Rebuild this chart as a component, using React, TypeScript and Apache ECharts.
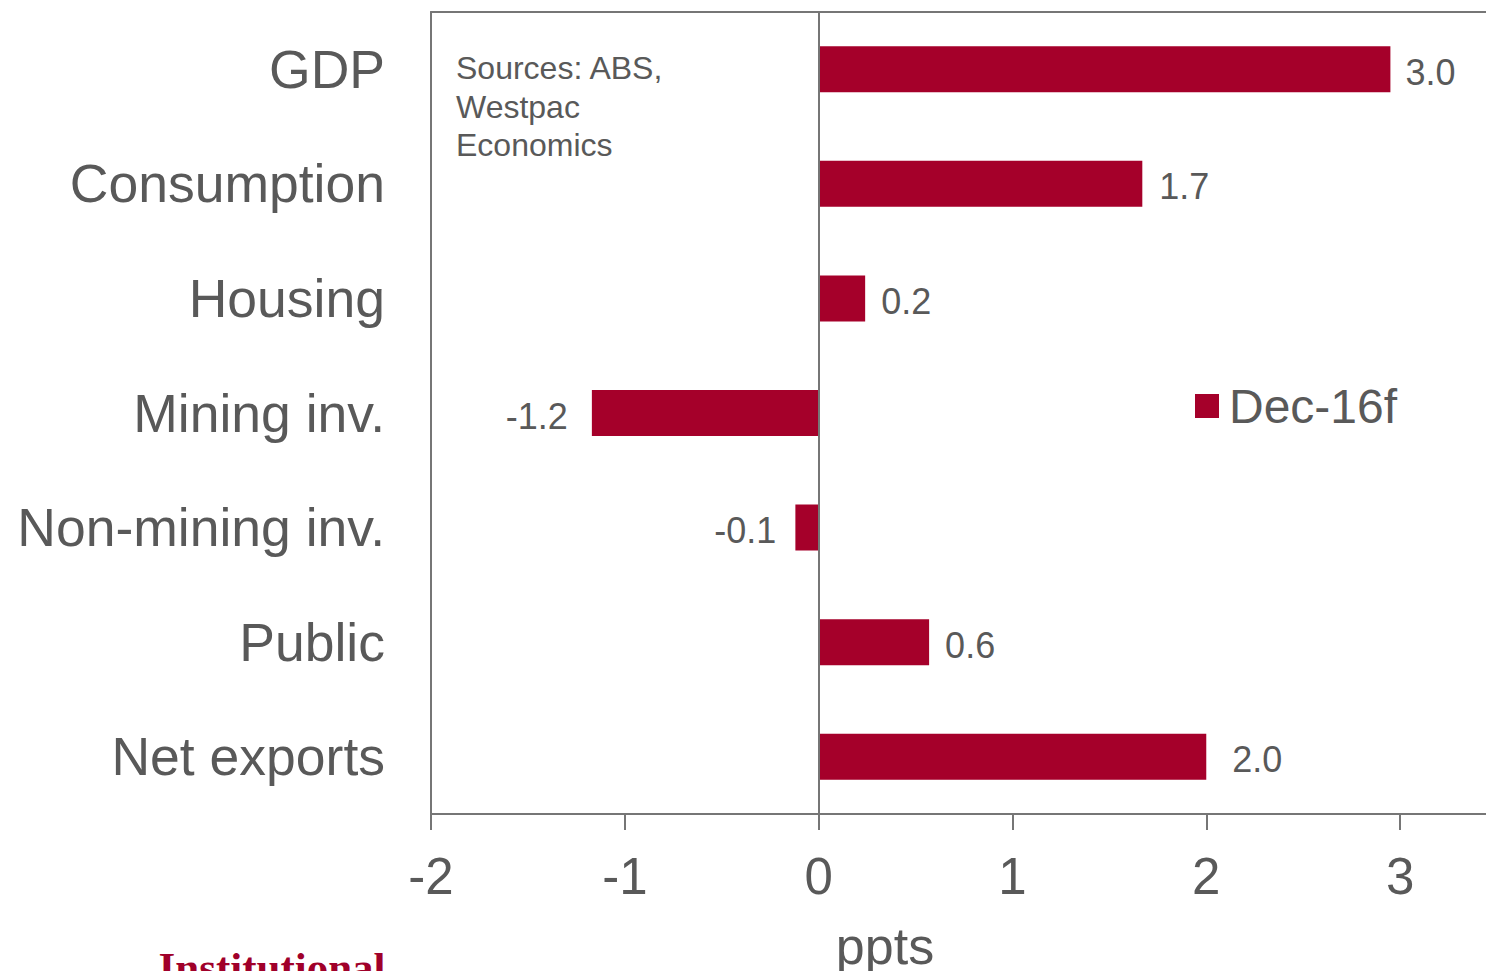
import React, { useEffect, useRef } from "react";
import * as echarts from "echarts";

const categories = ["GDP", "Consumption", "Housing", "Mining inv.", "Non-mining inv.", "Public", "Net exports"];
const values = [2.95, 1.67, 0.24, -1.17, -0.12, 0.57, 2.0];
const seriesName = "Dec-16f";
const xTicks = [-2, -1, 0, 1, 2, 3];

const FONT = "'Liberation Sans', Arial, sans-serif";
const GREY = "#595959";
const BAR = "#A5002A";
const AXIS = "#767676";

export default function App() {
  const ref = useRef<HTMLDivElement>(null);
  useEffect(() => {
    if (!ref.current) return;
    const chart = echarts.init(ref.current, undefined, { renderer: "svg" });
    const labelGaps = [15, 17, 16, 24, 19, 16, 26];
    chart.setOption({
      animation: false,
      backgroundColor: "#fff",
      textStyle: { fontFamily: FONT },
      grid: { left: 431, right: 2, top: 12, bottom: 971 - 814, containLabel: false },
      legend: {
        show: true,
        data: [seriesName],
        left: 1190,
        top: 377,
        icon: "rect",
        itemWidth: 24,
        itemHeight: 24,
        itemGap: 10,
        textStyle: { fontSize: 48, color: GREY, fontFamily: FONT, padding: [0, 0, 0, 5] },
      },
      xAxis: [
        {
          type: "value",
          min: xTicks[0],
          max: 3.5,
          interval: 1,
          position: "bottom",
          axisLine: { show: true, onZero: false, lineStyle: { color: AXIS, width: 2 } },
          axisTick: { show: true, length: 16, lineStyle: { color: AXIS, width: 2 } },
          axisLabel: {
            fontSize: 51,
            color: GREY,
            margin: 37,
            fontFamily: FONT,
            formatter: (v: number) => (xTicks.includes(v) ? String(v) : ""),
          },
          splitLine: { show: false },
        },
        {
          type: "value",
          min: xTicks[0],
          max: 3.5,
          interval: 1,
          position: "top",
          axisLine: { show: true, onZero: false, lineStyle: { color: AXIS, width: 2 } },
          axisTick: { show: false },
          axisLabel: { show: false },
          splitLine: { show: false },
        },
      ],
      yAxis: {
        type: "category",
        data: categories,
        inverse: true,
        axisLine: { show: true, onZero: false, lineStyle: { color: AXIS, width: 2 } },
        axisTick: { show: false },
        axisLabel: { fontSize: 53.5, color: GREY, margin: 46, fontFamily: FONT },
      },
      series: [
        {
          name: seriesName,
          type: "bar",
          xAxisIndex: 0,
          barWidth: 46,
          itemStyle: { color: BAR },
          data: values.map((v, i) => ({
            value: v,
            label: { position: v < 0 ? "left" : "right", distance: labelGaps[i] },
          })),
          label: {
            show: true,
            fontSize: 36,
            color: GREY,
            offset: [0, 3],
            fontFamily: FONT,
            formatter: (p: any) => Number(p.value).toFixed(1),
          },
          markLine: {
            silent: true,
            symbol: "none",
            label: { show: false },
            lineStyle: { color: AXIS, width: 2, type: "solid" },
            data: [{ xAxis: 0 }],
          },
        },
      ],
      graphic: [
        {
          type: "text",
          left: 456,
          top: 49,
          style: {
            text: "Sources: ABS,\nWestpac\nEconomics",
            fontSize: 32,
            lineHeight: 38.5,
            fill: GREY,
            fontFamily: FONT,
          },
        },
        {
          type: "text",
          x: 885,
          y: 946,
          style: {
            text: "ppts",
            fontSize: 52,
            fill: GREY,
            fontFamily: FONT,
            textAlign: "center",
            textVerticalAlign: "middle",
          },
        },
        {
          type: "text",
          x: 272,
          y: 946,
          style: {
            text: "Institutional",
            fontSize: 43,
            fontWeight: "bold",
            fill: "#A0002A",
            fontFamily: "'Liberation Serif', 'Times New Roman', serif",
            textAlign: "center",
            textVerticalAlign: "top",
          },
        },
      ],
    });
    return () => chart.dispose();
  }, []);
  return (
    <div style={{ position: "fixed", left: 0, top: 0, width: 1486, height: 971, overflow: "hidden", background: "#fff" }}>
      <div ref={ref} style={{ width: 1500, height: 971 }} />
    </div>
  );
}
